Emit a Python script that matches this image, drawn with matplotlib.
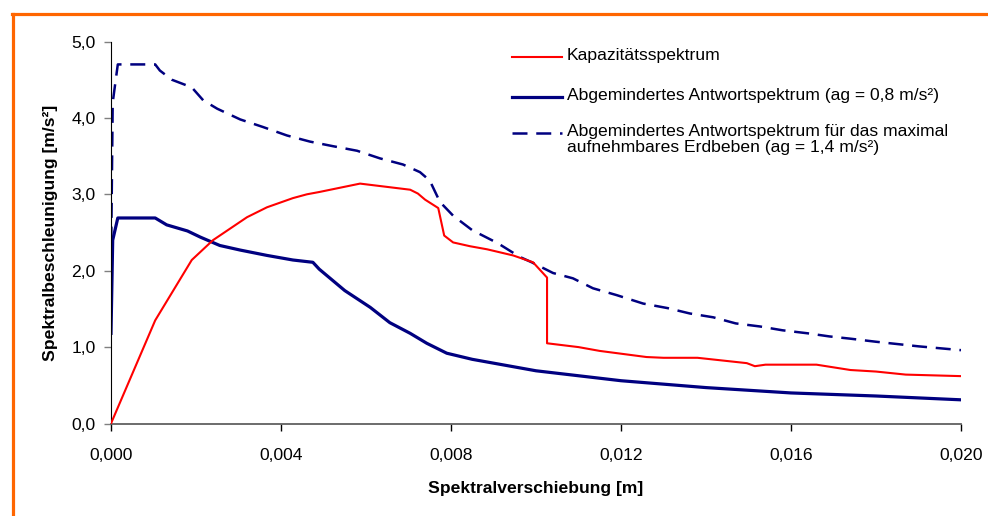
import matplotlib
matplotlib.use("Agg")
import matplotlib.pyplot as plt
from matplotlib.lines import Line2D
from matplotlib.ticker import FuncFormatter

plt.rcParams['font.family'] = ['Liberation Sans', 'DejaVu Sans']

# Kapazitaetsspektrum (red)
kap_x = [0.0, 0.00104, 0.0019, 0.0024, 0.0032, 0.00367, 0.00428, 0.00461, 0.0049,
         0.00586, 0.00645, 0.00704, 0.00722, 0.00739, 0.0077, 0.00784, 0.00805,
         0.00845, 0.00885, 0.00946, 0.00993, 0.01026, 0.01026, 0.0110, 0.0115,
         0.0126, 0.0130, 0.0138, 0.01496, 0.01515, 0.0154, 0.0166, 0.0174, 0.0180,
         0.0187, 0.0200]
kap_y = [0.0, 1.35, 2.14, 2.40, 2.70, 2.83, 2.95, 3.00, 3.03,
         3.14, 3.10, 3.06, 3.01, 2.93, 2.82, 2.46, 2.37,
         2.32, 2.28, 2.20, 2.11, 1.91, 1.05, 1.00, 0.95,
         0.87, 0.86, 0.86, 0.79, 0.75, 0.77, 0.77, 0.70, 0.68,
         0.64, 0.62]

# Abgemindertes Antwortspektrum ag = 0,8 (solid navy)
ant_x = [0.0, 0.00004, 0.00016, 0.00104, 0.00131, 0.0018, 0.0021, 0.00256, 0.00304,
         0.00367, 0.00428, 0.00475, 0.0049, 0.0055, 0.0061, 0.00656, 0.00704,
         0.00743, 0.0079, 0.0085, 0.0100, 0.0120, 0.0140, 0.0160, 0.0180, 0.0200]
ant_y = [1.18, 2.40, 2.69, 2.69, 2.60, 2.52, 2.44, 2.33, 2.27,
         2.20, 2.14, 2.11, 2.02, 1.74, 1.52, 1.32, 1.18,
         1.05, 0.92, 0.84, 0.69, 0.56, 0.47, 0.40, 0.36, 0.31]

# Abgemindertes Antwortspektrum ag = 1,4 (dashed navy)
max_x = [0.0, 0.00004, 0.00016, 0.00104, 0.00115, 0.00143, 0.0019, 0.00217, 0.0025,
         0.00304, 0.00358, 0.00414, 0.00468, 0.00522, 0.00579, 0.00633, 0.00687,
         0.00727, 0.0075, 0.00774, 0.00805, 0.0085, 0.0091, 0.00962, 0.0099,
         0.0104, 0.01087, 0.01134, 0.0119, 0.01252, 0.0131, 0.01362, 0.01417,
         0.0147, 0.01527, 0.0158, 0.0164, 0.0169, 0.0174, 0.0180, 0.0190, 0.0200]
max_y = [2.07, 4.20, 4.70, 4.70, 4.62, 4.50, 4.40, 4.23, 4.12,
         3.98, 3.88, 3.77, 3.69, 3.63, 3.57, 3.47, 3.39,
         3.29, 3.18, 2.90, 2.72, 2.53, 2.36, 2.18, 2.11,
         1.97, 1.90, 1.77, 1.68, 1.57, 1.51, 1.44, 1.39,
         1.31, 1.27, 1.22, 1.18, 1.14, 1.11, 1.07, 1.01, 0.96]

legend_labels = ["Kapazitätsspektrum",
                 "Abgemindertes Antwortspektrum (ag = 0,8 m/s²)",
                 "Abgemindertes Antwortspektrum für das maximal\naufnehmbares Erdbeben (ag = 1,4 m/s²)"]

x_ticks = [0.0, 0.004, 0.008, 0.012, 0.016, 0.020]
y_ticks = [0.0, 1.0, 2.0, 3.0, 4.0, 5.0]

navy = "#000080"
red = "#FF0000"
fs = 12.6

fig = plt.figure(figsize=(9.88, 5.16), dpi=100)
ax = fig.add_axes([111/988, 1 - 423.5/516, 850/988, 382/516])

ax.plot(kap_x, kap_y, color=red, lw=1.5, zorder=3)
ax.plot(max_x, max_y, color=navy, lw=1.8, linestyle=(0, (6, 3.5)), zorder=2)
ax.plot(ant_x, ant_y, color=navy, lw=2.3, zorder=2)

ax.set_xlim(0, 0.020)
ax.set_ylim(0, 5.0)
ax.set_xticks(x_ticks)
ax.set_yticks(y_ticks)
ax.xaxis.set_major_formatter(FuncFormatter(lambda v, p: ("%.3f" % v).replace(".", ",")))
ax.yaxis.set_major_formatter(FuncFormatter(lambda v, p: ("%.1f" % v).replace(".", ",")))
ax.tick_params(axis='both', labelsize=fs, length=5, direction='out', width=1)
ax.tick_params(axis='y', color='#808080', pad=6)
ax.tick_params(axis='x', color='black', pad=13)

for side in ['top', 'right']:
    ax.spines[side].set_visible(False)
ax.spines['left'].set_color('black')
ax.spines['bottom'].set_color('#606060')
ax.spines['bottom'].set_linewidth(1.3)

ax.set_xlabel("Spektralverschiebung [m]", fontsize=fs, fontweight='bold')
ax.xaxis.set_label_coords(0.5, -0.15)
ax.set_ylabel("Spektralbeschleunigung [m/s²]", fontsize=fs, fontweight='bold')
ax.yaxis.set_label_coords(-0.062, 0.5)

# legend drawn by hand, like the original
W, H = 988.0, 516.0
styles = [dict(color=red, lw=1.5), dict(color=navy, lw=2.3),
          dict(color=navy, lw=1.8, linestyle=(0, (6, 3.5)))]
rows = [57, 97, 133]
for lab, st, yy in zip(legend_labels, styles, rows):
    fig.add_artist(Line2D([512/W, 562/W], [1 - yy/H, 1 - yy/H], transform=fig.transFigure, **st))
    fig.text(567/W, 1 - (yy - 9)/H, lab, fontsize=fs, va='top', ha='left', linespacing=1.1)

# orange frame
orange = "#FF6600"
fig.add_artist(Line2D([12/W, 1.0], [1 - 13.5/H, 1 - 13.5/H], transform=fig.transFigure, color=orange, lw=2.3))
fig.add_artist(Line2D([12.5/W, 12.5/W], [0.0, 1 - 13.5/H], transform=fig.transFigure, color=orange, lw=2.3))

fig.savefig("out.png", dpi=100)
